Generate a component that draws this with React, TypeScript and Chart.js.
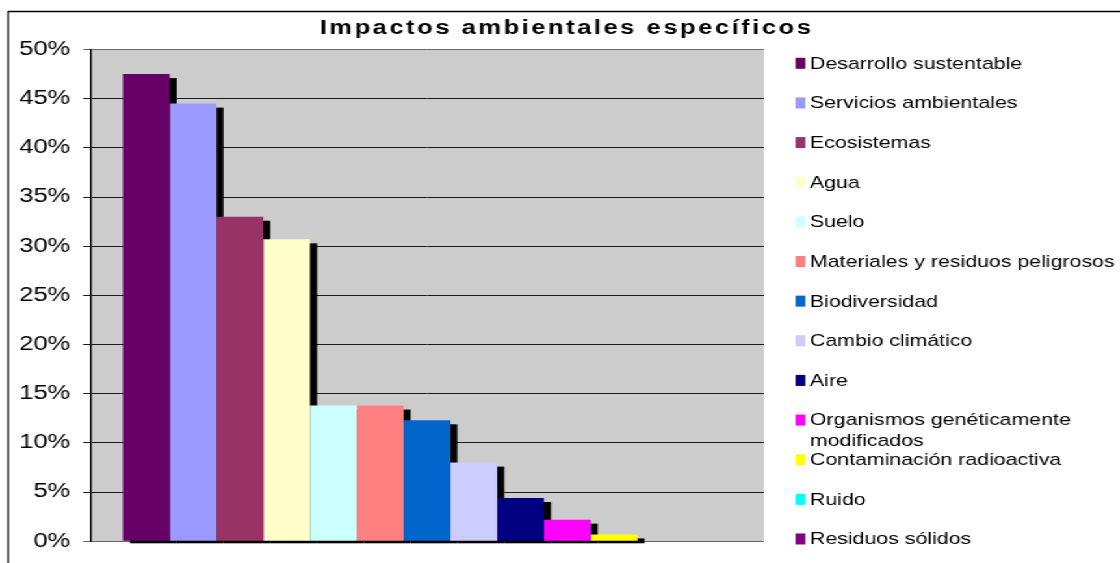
import React, { useEffect, useRef } from 'react';
import { Chart, registerables } from 'chart.js';

Chart.register(...registerables);

// ---- data ----
const TITLE = 'Impactos ambientales específicos';
const CATEGORIES = [
  'Desarrollo sustentable',
  'Servicios ambientales',
  'Ecosistemas',
  'Agua',
  'Suelo',
  'Materiales y residuos peligrosos',
  'Biodiversidad',
  'Cambio climático',
  'Aire',
  'Organismos genéticamente modificados',
  'Contaminación radioactiva',
  'Ruido',
  'Residuos sólidos',
];
const VALUES = [47.5, 44.5, 33, 30.7, 13.8, 13.8, 12.3, 8, 4.4, 2.2, 0.7, 0, 0];
const COLORS = [
  '#660066', '#9999FF', '#993366', '#FFFFCC', '#CCFFFF', '#FF8080', '#0066CC',
  '#CCCCFF', '#000080', '#FF00FF', '#FFFF00', '#00FFFF', '#800080',
];
const Y_MIN = 0;
const Y_MAX = 50;
const Y_STEP = 5;

// ---- layout (the picture is horizontally stretched) ----
const SX = 1.3;
const W = 1120 / SX;
const H = 563;
const FONT = '"Liberation Sans", Arial, sans-serif';
const fx = (x: number) => x / SX; // final px -> logical px

const bgPlugin = {
  id: 'bgPlugin',
  beforeDraw(chart: any) {
    const { ctx, chartArea } = chart;
    ctx.save();
    ctx.fillStyle = '#cccccc';
    ctx.fillRect(chartArea.left, chartArea.top, chartArea.right - chartArea.left, chartArea.bottom - chartArea.top);
    // outer frame (top and left visible)
    ctx.strokeStyle = '#000';
    ctx.lineWidth = 1.6;
    ctx.beginPath();
    ctx.moveTo(fx(8), 11.5);
    ctx.lineTo(W, 11.5);
    ctx.stroke();
    ctx.lineWidth = 1.2;
    ctx.beginPath();
    ctx.moveTo(fx(8), 11);
    ctx.lineTo(fx(8), H);
    ctx.stroke();
    ctx.restore();
  },
};

// draws every bar's drop shadow (from the bar elements' own geometry) before the bars
const shadowPlugin = {
  id: 'shadowPlugin',
  beforeDatasetsDraw(chart: any) {
    const { ctx, chartArea } = chart;
    ctx.save();
    ctx.fillStyle = '#000';
    const dx = fx(7);
    const dy = 4;
    chart.getSortedVisibleDatasetMetas().forEach((meta: any) => {
      meta.data.forEach((el: any) => {
        const { x, y, base, width } = el.getProps(['x', 'y', 'base', 'width'], true);
        const h = base - y;
        if (!(h > 0.5)) return;
        const top = y + dy;
        const bottom = Math.min(base + dy, chartArea.bottom + 2);
        ctx.fillRect(x - width / 2 + dx, top, width, bottom - top);
      });
    });
    ctx.restore();
  },
};

const titleLegendPlugin = {
  id: 'titleLegendPlugin',
  afterDraw(chart: any) {
    const ctx = chart.ctx;
    ctx.save();
    // title
    ctx.fillStyle = '#000';
    ctx.font = `bold 19.5px ${FONT}`;
    if ('letterSpacing' in ctx) (ctx as any).letterSpacing = '2px';
    ctx.textAlign = 'center';
    ctx.textBaseline = 'alphabetic';
    ctx.fillText(TITLE, fx(566), 34);
    if ('letterSpacing' in ctx) (ctx as any).letterSpacing = '0px';

    // legend
    const fontSize = 16.4;
    ctx.font = `${fontSize}px ${FONT}`;
    ctx.textAlign = 'left';
    const maxW = fx(1116) - fx(809);
    chart.data.datasets.forEach((ds: any, i: number) => {
      const yc = 62.8 + 39.64 * i;
      ctx.fillStyle = ds.backgroundColor;
      ctx.fillRect(fx(794.5), yc - 5, fx(804.5) - fx(794.5), 11);
      const words = String(ds.label).split(' ');
      const lines: string[] = [];
      let cur = '';
      words.forEach((w) => {
        const t = cur ? cur + ' ' + w : w;
        if (ctx.measureText(t).width > maxW && cur) {
          lines.push(cur);
          cur = w;
        } else cur = t;
      });
      if (cur) lines.push(cur);
      ctx.fillStyle = '#000';
      lines.forEach((ln, k) => {
        ctx.fillText(ln, fx(809), yc + 5.9 + k * 20.5);
      });
    });
    ctx.restore();
  },
};

export default function App() {
  const ref = useRef<HTMLCanvasElement | null>(null);
  useEffect(() => {
    if (!ref.current) return;
    const chart = new Chart(ref.current, {
      type: 'bar',
      data: {
        labels: [''],
        datasets: CATEGORIES.map((c, i) => ({
          label: c,
          data: [VALUES[i]],
          backgroundColor: COLORS[i],
          borderWidth: 0,
          categoryPercentage: 0.9027,
          barPercentage: 1,
        })),
      },
      options: {
        animation: false,
        responsive: true,
        maintainAspectRatio: false,
        layout: { padding: { left: 0, right: W - fx(763), top: 49.5, bottom: H - 552 } },
        plugins: {
          legend: { display: false },
          title: { display: false },
          tooltip: { enabled: false },
        },
        scales: {
          x: { display: false },
          y: {
            min: Y_MIN,
            max: Y_MAX,
            afterFit: (scale: any) => {
              scale.width = fx(90);
            },
            ticks: {
              stepSize: Y_STEP,
              padding: 10,
              color: '#000',
              font: { family: FONT, size: 19.5 },
              callback: (v: any) => `${v}%`,
            },
            grid: {
              color: (c: any) => (c.tick && (c.tick.value === Y_MIN || c.tick.value === Y_MAX) ? '#666' : '#1a1a1a'),
              lineWidth: 1,
              tickLength: fx(7),
              drawTicks: true,
            },
            border: { display: true, color: '#000', width: 1.4 },
          },
        },
      },
      plugins: [bgPlugin, shadowPlugin, titleLegendPlugin],
    });
    return () => chart.destroy();
  }, []);

  return (
    <div
      style={{
        position: 'fixed',
        left: 0,
        top: 0,
        width: `${W}px`,
        height: `${H}px`,
        transform: `scaleX(${SX})`,
        transformOrigin: '0 0',
        background: '#fff',
      }}
    >
      <canvas ref={ref} />
    </div>
  );
}
